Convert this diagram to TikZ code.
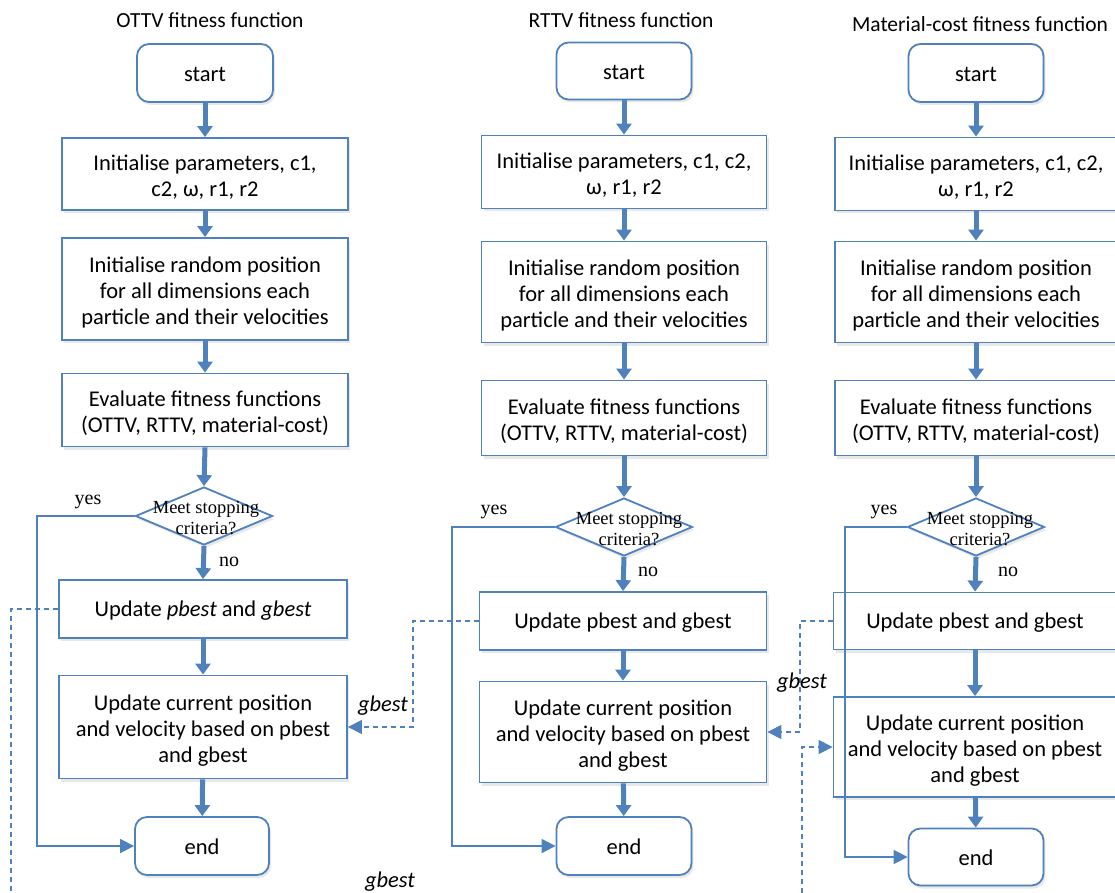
\documentclass[tikz,border=0pt]{standalone}
\usepackage{fontspec}
\setmainfont{Carlito}
\newfontfamily\serifx{Liberation Serif}
\usetikzlibrary{shapes.geometric,arrows.meta,shadows}
\definecolor{bc}{RGB}{79,129,189}
\tikzset{
  box/.style={draw=bc, line width=1.8pt, fill=white, align=center, inner sep=0pt,
     font=\fontsize{22.5}{26}\selectfont,
     execute at begin node={\rule{0pt}{18pt}},
     drop shadow={opacity=0.18, shadow xshift=2pt, shadow yshift=-3pt}},
  mbox/.style={draw=bc, line width=1.8pt, fill=white, inner sep=0pt,
     drop shadow={opacity=0.18, shadow xshift=2pt, shadow yshift=-3pt}},
  txt/.style={align=center, inner sep=0pt, font=\fontsize{22.5}{26}\selectfont},
  term/.style={box, rounded corners=12pt},
  dec/.style={diamond, draw=bc, line width=1.8pt, fill=white, inner sep=0pt,
     minimum width=137pt, minimum height=58pt,
     drop shadow={opacity=0.18, shadow xshift=2pt, shadow yshift=-3pt}},
  dectext/.style={font=\serifx\fontsize{18.5}{21}\selectfont, align=center, inner sep=0pt},
  lbl/.style={font=\serifx\fontsize{20}{22}\selectfont, inner sep=0pt},
  title/.style={font=\fontsize{21.5}{24}\selectfont, inner sep=0pt},
  gb/.style={font=\itshape\fontsize{22.5}{24}\selectfont, inner sep=0pt},
  flow/.style={draw=bc, line width=5pt, -{Triangle[width=15pt,length=11pt]}},
  yesline/.style={draw=bc, line width=1.6pt, -{Triangle[width=14pt,length=14pt]}},
  dashln/.style={draw=bc, line width=1.2pt, dash pattern=on 5pt off 4pt},
  dasharrow/.style={dashln, -{Triangle[width=14pt,length=14pt]}}
}
\begin{document}
\begin{tikzpicture}[x=1pt,y=-1pt]
\useasboundingbox (0,0) rectangle (1115,893);
% ---------- column 1 ----------
\node[title] (t1) at (210,20) {OTTV fitness function};
\node[term, minimum width=136pt, minimum height=58pt] (s1) at (205,73) {start};
\node[mbox, minimum width=286pt, minimum height=72pt] (p1) at (205,174) {};
\node[txt] (p1x) at ([yshift=-3.5pt]p1.center) {Initialise parameters, c1,\\c2, ω, r1, r2};
\node[mbox, minimum width=286pt, minimum height=102pt] (r1) at (205,289) {};
\node[txt] (r1x) at ([yshift=-3.5pt]r1.center) {Initialise random position\\for all dimensions each\\particle and their velocities};
\node[mbox, minimum width=286pt, minimum height=73pt] (e1) at (205,410) {};
\node[txt] (e1x) at ([yshift=-3.5pt]e1.center) {Evaluate fitness functions\\(OTTV, RTTV, material-cost)};
\node[dec] (d1) at (204,516) {};
\node[dectext] (dt1) at (206,518) {Meet stopping\\criteria?};
\node[box, minimum width=288pt, minimum height=58pt] (u1) at (203,609) {Update \textit{pbest} and \textit{gbest}};
\node[mbox, minimum width=288pt, minimum height=103pt] (c1) at (203,727) {};
\node[txt] (c1x) at ([yshift=-3.5pt]c1.center) {Update current position\\and velocity based on pbest\\and gbest};
\node[term, minimum width=134pt, minimum height=58pt] (n1) at (202,846) {end};
\node[lbl] (y1l) at (88,502) {yes};
\node[lbl] (n1l) at (229,562) {no};
\draw[flow] (s1) -- (p1);
\draw[flow] (p1) -- (r1);
\draw[flow] (r1) -- (e1);
\draw[flow] (e1.south) -- (d1.north);
\draw[flow] (d1.south) -- (u1.north);
\draw[flow] (u1) -- (c1);
\draw[flow] (c1) -- (n1);
\coordinate (ya1) at (37,516);
\draw[yesline] (d1.west) -- (ya1) |- (n1.west);
\coordinate (da1) at (11,609);
\coordinate (db1) at (11,893);
\draw[dashln] (u1.west) -- (da1) -- (db1);
\node[gb] (g3) at (390,882) {gbest};
% ---------- column 2 ----------
\node[title] (t2) at (621,20) {RTTV fitness function};
\node[term, minimum width=135pt, minimum height=57pt] (s2) at (624,71) {start};
\node[mbox, minimum width=285pt, minimum height=73pt] (p2) at (624,172) {};
\node[txt] (p2x) at ([yshift=-3.5pt]p2.center) {Initialise parameters, c1, c2,\\ω, r1, r2};
\node[mbox, minimum width=285pt, minimum height=101pt] (r2) at (624,292) {};
\node[txt] (r2x) at ([yshift=-3.5pt]r2.center) {Initialise random position\\for all dimensions each\\particle and their velocities};
\node[mbox, minimum width=285pt, minimum height=75pt] (e2) at (624,418) {};
\node[txt] (e2x) at ([yshift=-3.5pt]e2.center) {Evaluate fitness functions\\(OTTV, RTTV, material-cost)};
\node[dec] (d2) at (624,527) {};
\node[dectext] (dt2) at (629,529) {Meet stopping\\criteria?};
\node[box, minimum width=287pt, minimum height=58pt] (u2) at (623,621) {Update pbest and gbest};
\node[mbox, minimum width=287pt, minimum height=101pt] (c2) at (623,732) {};
\node[txt] (c2x) at ([yshift=-3.5pt]c2.center) {Update current position\\and velocity based on pbest\\and gbest};
\node[term, minimum width=135pt, minimum height=58pt] (n2) at (624,846) {end};
\node[lbl] (y2l) at (494,512) {yes};
\node[lbl] (n2l) at (648,572) {no};
\draw[flow] (s2) -- (p2);
\draw[flow] (p2) -- (r2);
\draw[flow] (r2) -- (e2);
\draw[flow] (e2.south) -- (d2.north);
\draw[flow] (d2.south) -- (u2.north);
\draw[flow] (u2) -- (c2);
\draw[flow] (c2) -- (n2);
\coordinate (ya2) at (452,527);
\draw[yesline] (d2.west) -- (ya2) |- (n2.west);
\coordinate (da2) at (413,621);
\draw[dasharrow] (u2.west) -- (da2) |- (c1.east);
\node[gb] (g1) at (383,706) {gbest};
% ---------- column 3 ----------
\node[title] (t3) at (980,24) {Material-cost fitness function};
\node[term, minimum width=135pt, minimum height=58pt] (s3) at (976,73) {start};
\node[mbox, minimum width=282pt, minimum height=73pt] (p3) at (976,174) {};
\node[txt] (p3x) at ([yshift=-3.5pt]p3.center) {Initialise parameters, c1, c2,\\ω, r1, r2};
\node[mbox, minimum width=282pt, minimum height=101pt] (r3) at (976,292) {};
\node[txt] (r3x) at ([yshift=-3.5pt]r3.center) {Initialise random position\\for all dimensions each\\particle and their velocities};
\node[mbox, minimum width=282pt, minimum height=75pt] (e3) at (976,418) {};
\node[txt] (e3x) at ([yshift=-3.5pt]e3.center) {Evaluate fitness functions\\(OTTV, RTTV, material-cost)};
\node[dec] (d3) at (976,527) {};
\node[dectext] (dt3) at (980,529) {Meet stopping\\criteria?};
\node[box, minimum width=283pt, minimum height=57pt] (u3) at (975,621) {Update pbest and gbest};
\node[mbox, minimum width=283pt, minimum height=100pt] (c3) at (975,747) {};
\node[txt] (c3x) at ([yshift=-3.5pt]c3.center) {Update current position\\and velocity based on pbest\\and gbest};
\node[term, minimum width=135pt, minimum height=57pt] (n3) at (976,857) {end};
\node[lbl] (y3l) at (884,512) {yes};
\node[lbl] (n3l) at (1008,572) {no};
\draw[flow] (s3) -- (p3);
\draw[flow] (p3) -- (r3);
\draw[flow] (r3) -- (e3);
\draw[flow] (e3.south) -- (d3.north);
\draw[flow] (d3.south) -- (u3.north);
\draw[flow] (u3) -- (c3);
\draw[flow] (c3) -- (n3);
\coordinate (ya3) at (845,527);
\draw[yesline] (d3.west) -- (ya3) |- (n3.west);
\coordinate (da3) at (800,621);
\draw[dasharrow] (u3.west) -- (da3) |- (c2.east);
\node[gb] (g2) at (802,683) {gbest};
\coordinate (db3) at (802,893);
\draw[dasharrow] (db3) |- (c3.west);
\end{tikzpicture}
\end{document}
